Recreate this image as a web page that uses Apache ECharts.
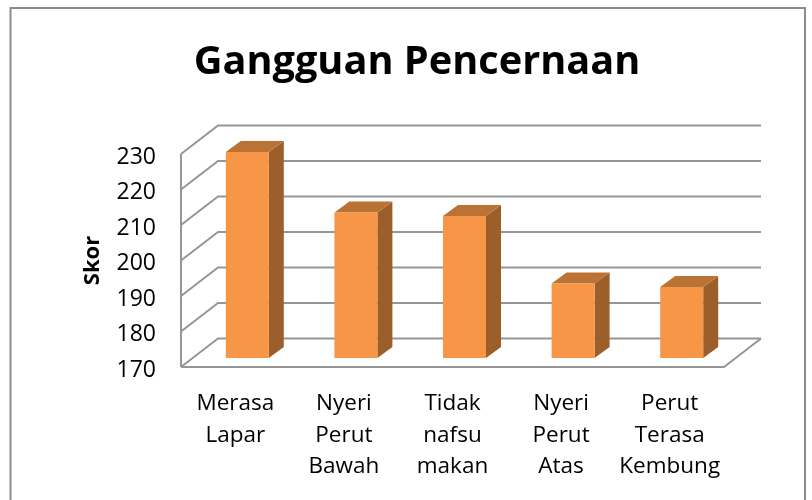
<!DOCTYPE html>
<html><head><meta charset="utf-8">
<style>html,body{margin:0;padding:0;background:#fff}#c{width:812px;height:500px}</style>
<script src="https://cdn.jsdelivr.net/npm/echarts@6/dist/echarts.min.js"></script>
</head><body><div id="c"></div>
<script>
var categories = ['Merasa\nLapar', 'Nyeri\nPerut\nBawah', 'Tidak\nnafsu\nmakan', 'Nyeri\nPerut\nAtas', 'Perut\nTerasa\nKembung'];
var scores = [228, 211, 210, 191, 190];
var ticks = [170, 180, 190, 200, 210, 220, 230];
var FONT = '"Open Sans"';
var WALL_DX = 37, WALL_DY = 28.5, BAR_DX = 15, BAR_DY = 11, BAR_OFF_DX = 12, BAR_OFF_DY = 9, BAR_W = 43;
var chart = echarts.init(document.getElementById('c'), null, {renderer: 'canvas'});
function wallItem(params, api) {
  var v = api.value(0);
  var p = api.coord([0, v]);
  var x0 = params.coordSys.x, x1 = x0 + params.coordSys.width, y = p[1];
  var ls = {stroke: '#969696', lineWidth: 2, fill: null};
  var kids = [{type: 'polyline', shape: {points: [[x0, y], [x0 + WALL_DX, y - WALL_DY], [x1 + WALL_DX, y - WALL_DY]]}, style: ls}];
  if (v === ticks[0]) {
    kids.push({type: 'polyline', shape: {points: [[x0, y], [x1, y], [x1 + WALL_DX, y - WALL_DY]]}, style: ls});
    kids.push({type: 'line', shape: {x1: x0, y1: y, x2: x0, y2: params.coordSys.y}, style: ls});
  }
  return {type: 'group', children: kids};
}
function barItem(params, api) {
  var top = api.coord([api.value(0), api.value(1)]);
  var base = api.coord([api.value(0), ticks[0]]);
  var l = top[0] - BAR_W / 2 + BAR_OFF_DX, r = l + BAR_W;
  var t = top[1] - BAR_OFF_DY, b = base[1] - BAR_OFF_DY;
  return {type: 'group', children: [
    {type: 'polygon', shape: {points: [[r, t], [r + BAR_DX, t - BAR_DY], [r + BAR_DX, b - BAR_DY], [r, b]]}, style: {fill: '#9c5f2b'}},
    {type: 'polygon', shape: {points: [[l, t], [l + BAR_DX, t - BAR_DY], [r + BAR_DX, t - BAR_DY], [r, t]]}, style: {fill: '#bb7335'}},
    {type: 'rect', shape: {x: l, y: t, width: BAR_W, height: b - t}, style: {fill: '#f79646'}}
  ]};
}
chart.setOption({
  animation: false,
  title: {text: 'Gangguan Pencernaan', left: 412, top: 38, textAlign: 'center',
    textStyle: {fontFamily: FONT, fontSize: 39.7, fontWeight: 'bold', color: '#000'}},
  grid: {left: 181, right: 88, top: 154, bottom: 133, containLabel: false},
  xAxis: {type: 'category', data: categories, axisLine: {show: false}, axisTick: {show: false},
    axisLabel: {color: '#000', fontFamily: FONT, fontSize: 22.5, lineHeight: 31.5, margin: 21, interval: 0}},
  yAxis: {type: 'value', min: 170, max: 230, interval: 10, name: 'Skor', nameLocation: 'middle', nameRotate: 90, nameGap: 77,
    nameTextStyle: {color: '#000', fontFamily: FONT, fontSize: 22, fontWeight: 'bold'},
    axisLine: {show: false}, axisTick: {show: false}, splitLine: {show: false},
    axisLabel: {color: '#000', margin: 25, formatter: '{t|{value}}',
      rich: {t: {color: '#000', fontFamily: FONT, fontSize: 23, padding: [6, 0, 0, 0]}}}},
  series: [
    {type: 'custom', name: 'wall', silent: true, coordinateSystem: 'cartesian2d', encode: {y: 0}, data: ticks.map(function (t) { return [t]; }), renderItem: wallItem, z: 1},
    {type: 'custom', name: 'Skor', coordinateSystem: 'cartesian2d', encode: {x: 0, y: 1}, data: scores.map(function (v, i) { return [i, v]; }), renderItem: barItem, z: 2}
  ],
  graphic: [{type: 'polyline', silent: true, shape: {points: [[10.5, 500], [10.5, 8], [805, 8], [805, 500]]}, style: {stroke: '#8c8c8c', lineWidth: 2, fill: null}}]
});
</script></body></html>
